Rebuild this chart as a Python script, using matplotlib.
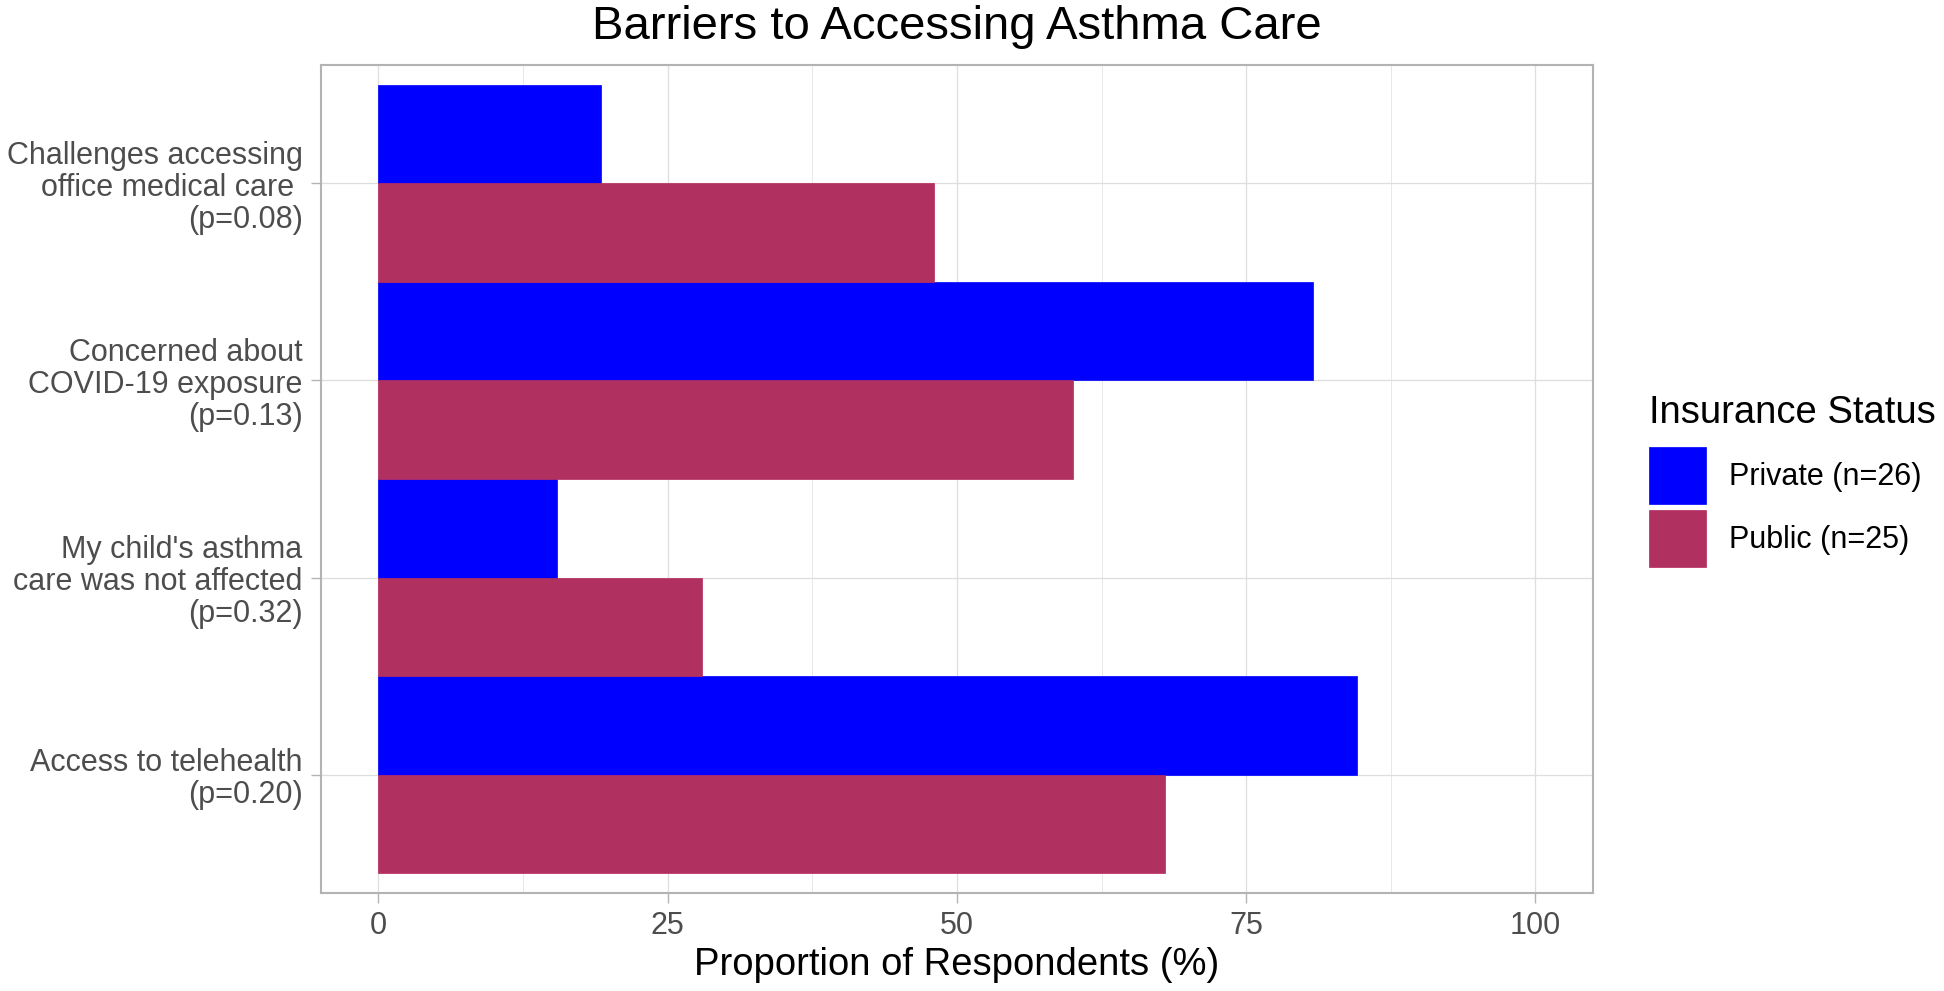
import numpy as np
import matplotlib
matplotlib.use("Agg")
import matplotlib.pyplot as plt
from matplotlib.ticker import MultipleLocator

plt.rcParams['font.family'] = ['Liberation Sans', 'DejaVu Sans']

# data (top to bottom)
categories = [
    "Challenges accessing\noffice medical care \n(p=0.08)",
    "Concerned about\nCOVID-19 exposure\n(p=0.13)",
    "My child's asthma\ncare was not affected\n(p=0.32)",
    "Access to telehealth\n(p=0.20)",
]
private = [19.2, 80.8, 15.4, 84.6]
public = [48.0, 60.0, 28.0, 68.0]
series_labels = ["Private (n=26)", "Public (n=25)"]

col_private = "#0000FF"
col_public = "#B03060"
grid_col = "#DEDEDE"
frame_col = "#B3B3B3"

fig = plt.figure(figsize=(19.44, 9.91), dpi=100)
ax = fig.add_axes([0.1649, 0.0989, 0.6547, 0.8355])

pos = np.arange(len(categories))[::-1] + 1  # top category at y=4
h = 0.5
b1 = ax.barh(pos + h / 2, private, height=h, color=col_private,
             edgecolor=col_private, linewidth=0.5, label=series_labels[0], zorder=3)
b2 = ax.barh(pos - h / 2, public, height=h, color=col_public,
             edgecolor="#B8285C", linewidth=0.5, label=series_labels[1], zorder=3)

ax.set_xlim(-5, 105)
ax.set_ylim(0.4, len(categories) + 0.6)
ax.xaxis.set_major_locator(MultipleLocator(25))
ax.xaxis.set_minor_locator(MultipleLocator(12.5))
ax.set_yticks(pos)
ax.set_yticklabels(categories, linespacing=1.08, ha='right', multialignment='right')

ax.grid(which='major', axis='both', color=grid_col, linewidth=0.9, zorder=0)
ax.grid(which='minor', axis='x', color=grid_col, linewidth=0.5, zorder=0)
ax.set_axisbelow(True)

for s in ax.spines.values():
    s.set_color(frame_col)
    s.set_linewidth(1.5)

ax.tick_params(axis='both', which='major', color=frame_col, width=1.0,
               length=7.5, pad=5.5, labelsize=22, labelcolor="#4D4D4D")
ax.tick_params(axis='x', which='minor', length=0)

ax.set_xlabel("Proportion of Respondents (%)", fontsize=27.5, color="black", labelpad=4)
ax.set_title("Barriers to Accessing Asthma Care", fontsize=34, color="black", pad=19)

# legend: title drawn separately so the gap to the keys matches
fig.text(1649 / 1944, 1 - 423 / 991, "Insurance Status", fontsize=27.5,
         ha='left', va='baseline', color="black")
leg = ax.legend(handles=[b1, b2], loc='upper left',
                bbox_to_anchor=(1649 / 1944, 1 - 447 / 991),
                bbox_transform=fig.transFigure, frameon=False, fontsize=22,
                handlelength=1.86, handleheight=2.49,
                labelspacing=0.2, handletextpad=0.75, borderpad=0,
                borderaxespad=0)

fig.savefig("out.png", dpi=100, facecolor="white")
